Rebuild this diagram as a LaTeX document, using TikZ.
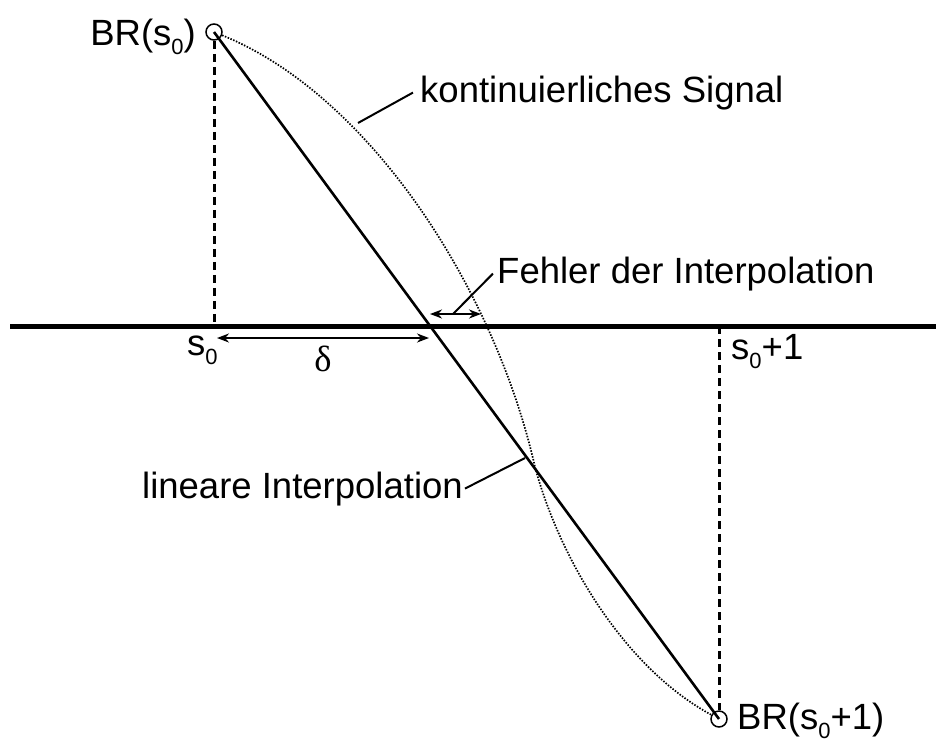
\documentclass[tikz,border=0pt]{standalone}
\usepackage{fontspec}
\setmainfont{Liberation Sans}
\newfontfamily\grkfont{Liberation Serif}
\usetikzlibrary{arrows.meta}
\newcommand{\idx}[1]{\raisebox{-9pt}{\fontsize{22}{22}\selectfont #1}}

\begin{document}
\begin{tikzpicture}[x=1pt, y=-1pt,
    lbl/.style={font=\fontsize{36.5}{40}\selectfont, inner sep=0pt},
    smp/.style={circle, draw, line width=1.5pt, minimum size=16pt, inner sep=0pt},
    drop/.style={line width=3pt, dash pattern=on 8pt off 5pt},
    lead/.style={line width=2pt},
    dim/.style={{Stealth[length=12pt,width=9pt]}-{Stealth[length=12pt,width=9pt]}, line width=2pt},
]
\useasboundingbox (0,0) rectangle (936,742);

% Samples
\node[smp] (p0) at (214,32) {};
\node[smp] (p1) at (719,719) {};
\node[lbl, anchor=base east] (br0) at (196,45) {BR(s\idx{0})};
\node[lbl, anchor=base west] (br1) at (737,729) {BR(s\idx{0}+1)};

% Axis
\coordinate (axl) at (10,326);
\coordinate (axr) at (936,326);
\draw[line width=5pt] (axl) -- (axr);

% Sample positions
\coordinate (f0) at (214,326);
\coordinate (f1) at (719,326);
\draw[drop] (p0) -- (f0);
\draw[drop] (f1) -- (p1);
\node[lbl, anchor=base west] (s0) at (187,355) {s\idx{0}};
\node[lbl, anchor=base west] (s1) at (731,359) {s\idx{0}+1};

% Linear interpolation
\draw[line width=2.6pt] (p0.center) -- (p1.center);

% Continuous signal
\coordinate (ci) at (535,467);
\draw[line width=1.7pt, dash pattern=on 1.5pt off 1.5pt]
    (p0) .. controls (370,95) and (495,290) .. (ci)
         .. controls (560,560) and (625,668) .. (p1);

% Offset delta
\coordinate (d0) at (217,338);
\coordinate (d1) at (429,338);
\draw[dim] (d0) -- (d1);
\node[lbl] (dl) at (323,359) {\grkfont δ};

% Interpolation error
\coordinate (e0) at (430,314);
\coordinate (e1) at (453,314);
\coordinate (e2) at (481,314);
\draw[dim] (e0) -- (e2);

% Labels
\coordinate (c1) at (358,123);
\coordinate (l1) at (525,458);
\node[lbl, anchor=base west, inner xsep=7pt] (kon) at (413,102) {kontinuierliches Signal};
\node[lbl, anchor=base west, inner xsep=4pt] (feh) at (493,283) {Fehler der Interpolation};
\node[lbl, anchor=base east, inner xsep=2pt] (lin) at (465,498) {lineare Interpolation};
\draw[lead] (c1) -- (kon.west);
\draw[lead] (e1) -- (feh.west);
\draw[lead] (lin.east) -- (l1);

\end{tikzpicture}
\end{document}
